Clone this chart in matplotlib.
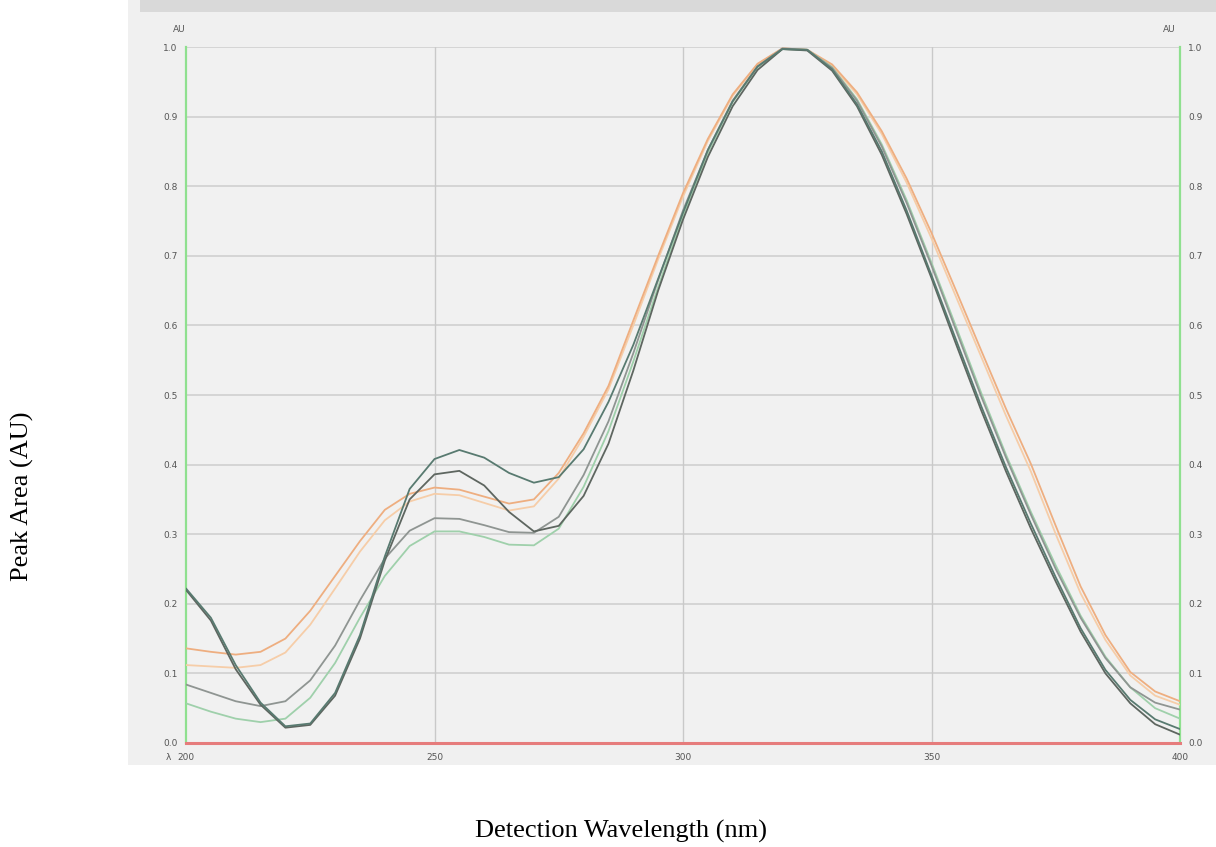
import matplotlib
matplotlib.use("Agg")
import matplotlib.pyplot as plt
from matplotlib.patches import Rectangle

# Wavelength grid (nm) and normalised absorbance of each overlaid spectrum
wavelength = list(range(200, 401, 5))

spec_orange_a = [0.136, 0.131, 0.127, 0.131, 0.150, 0.190, 0.240, 0.290, 0.335, 0.358,
                 0.367, 0.364, 0.354, 0.344, 0.350, 0.388, 0.445, 0.513, 0.607, 0.700,
                 0.790, 0.868, 0.932, 0.976, 0.998, 0.996, 0.975, 0.935, 0.879, 0.811,
                 0.733, 0.649, 0.564, 0.480, 0.401, 0.312, 0.225, 0.155, 0.102, 0.074, 0.060]
spec_orange_b = [0.112, 0.110, 0.108, 0.112, 0.130, 0.170, 0.222, 0.275, 0.320, 0.347,
                 0.358, 0.356, 0.345, 0.334, 0.340, 0.380, 0.440, 0.508, 0.600, 0.695,
                 0.785, 0.865, 0.930, 0.975, 0.998, 0.996, 0.973, 0.932, 0.875, 0.805,
                 0.725, 0.640, 0.555, 0.470, 0.390, 0.300, 0.215, 0.148, 0.097, 0.068, 0.055]
spec_dark_teal = [0.222, 0.180, 0.112, 0.058, 0.024, 0.028, 0.072, 0.155, 0.268, 0.365,
                  0.408, 0.421, 0.410, 0.388, 0.374, 0.382, 0.422, 0.490, 0.572, 0.667,
                  0.762, 0.852, 0.922, 0.972, 0.997, 0.996, 0.968, 0.918, 0.850, 0.765,
                  0.672, 0.578, 0.484, 0.396, 0.315, 0.238, 0.165, 0.105, 0.062, 0.034, 0.020]
spec_dark_gray = [0.220, 0.176, 0.106, 0.055, 0.022, 0.026, 0.068, 0.150, 0.262, 0.350,
                  0.386, 0.391, 0.370, 0.332, 0.304, 0.312, 0.355, 0.430, 0.535, 0.650,
                  0.752, 0.842, 0.915, 0.967, 0.997, 0.995, 0.966, 0.915, 0.845, 0.760,
                  0.668, 0.572, 0.478, 0.390, 0.308, 0.232, 0.160, 0.100, 0.057, 0.027, 0.012]
spec_gray = [0.084, 0.072, 0.060, 0.053, 0.060, 0.090, 0.140, 0.205, 0.265, 0.305,
             0.323, 0.322, 0.313, 0.303, 0.302, 0.325, 0.385, 0.462, 0.560, 0.665,
             0.765, 0.852, 0.923, 0.972, 0.998, 0.996, 0.970, 0.923, 0.857, 0.776,
             0.686, 0.592, 0.498, 0.410, 0.328, 0.250, 0.180, 0.122, 0.080, 0.058, 0.048]
spec_light_green = [0.057, 0.045, 0.035, 0.030, 0.035, 0.065, 0.115, 0.180, 0.240, 0.283,
                    0.304, 0.304, 0.296, 0.285, 0.284, 0.308, 0.368, 0.448, 0.548, 0.655,
                    0.758, 0.848, 0.921, 0.971, 0.997, 0.996, 0.971, 0.925, 0.860, 0.780,
                    0.690, 0.597, 0.503, 0.414, 0.332, 0.255, 0.183, 0.124, 0.080, 0.050, 0.035]

x_ticks = [200, 250, 300, 350, 400]
y_ticks = [0.0, 0.1, 0.2, 0.3, 0.4, 0.5, 0.6, 0.7, 0.8, 0.9, 1.0]

series = [
    (spec_orange_b, "#f6cda8"),
    (spec_orange_a, "#eeae80"),
    (spec_light_green, "#9fd0ab"),
    (spec_gray, "#8f9592"),
    (spec_dark_gray, "#5e6660"),
    (spec_dark_teal, "#587a70"),
]

W, H = 1216, 847
fig = plt.figure(figsize=(W / 100, H / 100), dpi=100)
fig.patch.set_facecolor("white")

# Instrument window panel behind the plot
fig.patches.append(Rectangle((128 / W, 1 - 765 / H), 1 - 128 / W, 765 / H,
                             transform=fig.transFigure, facecolor="#f0f0f0",
                             edgecolor="none", zorder=-5))
fig.patches.append(Rectangle((140 / W, 1 - 12 / H), 1 - 140 / W, 12 / H,
                             transform=fig.transFigure, facecolor="#d9d9d9",
                             edgecolor="none", zorder=-5))

ax = fig.add_axes([186 / W, 1 - 743 / H, (1180 - 186) / W, (743 - 47) / H])
ax.set_zorder(1)
ax.set_facecolor("#f1f1f1")
ax.set_xlim(200, 400)
ax.set_ylim(0, 1.0)

for yv in y_ticks[1:]:
    ax.axhline(yv, color="#d2d2d2", lw=1.3, zorder=1)
for xv in x_ticks[1:-1]:
    ax.axvline(xv, color="#c9c9c9", lw=1.0, zorder=1)

for vals, col in series:
    ax.plot(wavelength, vals, color=col, lw=1.3, zorder=3,
            solid_capstyle="round", solid_joinstyle="round")

ax.spines["top"].set_visible(False)
ax.spines["left"].set_color("#8fe08f")
ax.spines["left"].set_linewidth(1.6)
ax.spines["right"].set_color("#8fe08f")
ax.spines["right"].set_linewidth(1.6)
ax.spines["bottom"].set_color("#e67c7c")
ax.spines["bottom"].set_linewidth(2.2)
ax.spines["bottom"].set_zorder(4)

ax.set_xticks(x_ticks)
ax.set_xticklabels([str(v) for v in x_ticks])
ax.set_yticks(y_ticks)
ax.set_yticklabels([f"{v:.1f}" for v in y_ticks])
ax.tick_params(axis="both", length=0, labelsize=6.5, labelcolor="#555555")
ax.tick_params(axis="x", pad=7)
ax.tick_params(axis="y", pad=6, labelright=True, labelleft=True)

tick_font = dict(fontsize=6.5, color="#555555")
ax.text(-0.013, 1.018, "AU", transform=ax.transAxes, ha="left", va="bottom", **tick_font)
ax.text(0.996, 1.018, "AU", transform=ax.transAxes, ha="right", va="bottom", **tick_font)
ax.annotate("λ", xy=(200, 0), xytext=(-13, -7), textcoords="offset points",
            ha="center", va="top", annotation_clip=False, **tick_font)

# Outer figure labels
fig.text(22 / W, 1 - 496 / H, "Peak Area (AU)", rotation=90, ha="center", va="center",
         fontsize=19, family="Liberation Serif", color="black")
fig.text(621 / W, 1 - 831 / H, "Detection Wavelength (nm)", ha="center", va="center",
         fontsize=19, family="Liberation Serif", color="black")

fig.savefig("out.png", dpi=100, facecolor=fig.get_facecolor())
